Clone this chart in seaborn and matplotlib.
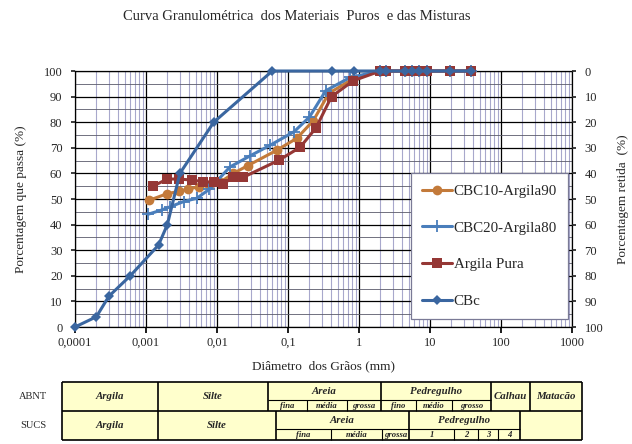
import matplotlib
matplotlib.use("Agg")
import matplotlib.pyplot as plt
import seaborn as sns
import pandas as pd
import numpy as np
from matplotlib.ticker import FixedLocator, NullFormatter, LogLocator

sns.set_theme(style="white")
plt.rcParams['font.family'] = ['Liberation Serif', 'DejaVu Serif']

# ---------------- data ----------------
high_sizes = [2.0, 2.4, 4.4, 5.6, 7.1, 9.1, 19, 38]
high_pass = [100, 100, 100, 100, 100, 100, 100, 100]

cbc10_x = [0.00111, 0.00195, 0.0029, 0.0039, 0.0055, 0.0078, 0.011, 0.017, 0.027,
           0.069, 0.133, 0.227, 0.377, 0.83] + high_sizes
cbc10_y = [49.5, 52, 53, 53.8, 54.8, 55.5, 56.5, 60, 63, 69, 73.7, 80.6, 91.3, 97] + high_pass

cbc20_x = [0.00106, 0.00166, 0.0022, 0.0034, 0.0052, 0.0078, 0.0152, 0.029, 0.056,
           0.122, 0.2, 0.34, 0.75] + high_sizes
cbc20_y = [44, 45.7, 47, 49, 50.3, 53.8, 62.5, 66.8, 71, 76.3, 82, 92.3, 97.5] + high_pass

argila_x = [0.00125, 0.002, 0.0029, 0.0044, 0.0063, 0.0092, 0.0123, 0.017, 0.0235,
            0.075, 0.148, 0.248, 0.41, 0.83] + high_sizes
argila_y = [55, 57.8, 57.8, 57.4, 56.8, 56.5, 56, 58.5, 58.5, 65.2, 70.2, 77.8, 90, 96.2] + high_pass

cbc_x = [0.0001, 0.0002, 0.0003, 0.0006, 0.0015, 0.002, 0.003, 0.009, 0.06, 0.42, 0.85] + high_sizes
cbc_y = [0, 4, 12, 20, 32, 40, 60, 80, 100, 100, 100] + high_pass

series_names = ["CBC10-Argila90", "CBC20-Argila80", "Argila Pura", "CBc"]
x_ticks = [0.0001, 0.001, 0.01, 0.1, 1, 10, 100, 1000]
x_tick_labels = ["0,0001", "0,001", "0,01", "0,1", "1", "10", "100", "1000"]
y_ticks = [0, 10, 20, 30, 40, 50, 60, 70, 80, 90, 100]

# ---------------- figure ----------------
W, H = 632, 444
fig = plt.figure(figsize=(W / 100, H / 100), dpi=100)
fig.patch.set_facecolor("white")

L, R, T, B = 75, 572, 71, 327
ax = fig.add_axes([L / W, 1 - B / H, (R - L) / W, (B - T) / H])
ax.set_facecolor("white")

styles = [
    dict(color="#C37A3A", marker="o", markersize=7, markeredgewidth=0),
    dict(color="#4A7EBB", marker="+", markersize=8, markeredgewidth=1.3),
    dict(color="#953735", marker="s", markersize=7.5, markeredgewidth=0),
    dict(color="#3A66A0", marker="D", markersize=5.5, markeredgewidth=0),
]
data = [(cbc10_x, cbc10_y), (cbc20_x, cbc20_y), (argila_x, argila_y), (cbc_x, cbc_y)]

for name, (xs, ys), st in zip(series_names, data, styles):
    df = pd.DataFrame({"x": xs, "y": ys})
    sns.lineplot(data=df, x="x", y="y", ax=ax, sort=False, linewidth=2.2,
                 color=st["color"], marker=st["marker"], markersize=st["markersize"],
                 markeredgewidth=st["markeredgewidth"], markeredgecolor=st["color"],
                 markerfacecolor=st["color"], label=name, clip_on=False, zorder=5)

ax.set_xscale("log")
ax.set_xlim(0.0001, 1000)
ax.set_ylim(0, 100)

ax.xaxis.set_major_locator(FixedLocator(x_ticks))
ax.set_xticks(x_ticks)
ax.set_xticklabels(x_tick_labels)
ax.xaxis.set_minor_locator(LogLocator(base=10, subs=np.arange(2, 10), numticks=100))
ax.xaxis.set_minor_formatter(NullFormatter())
ax.set_yticks(y_ticks)
ax.set_yticks(np.arange(5, 100, 10), minor=True)

ax.grid(True, which="major", axis="both", color="black", linewidth=0.9, zorder=1)
ax.grid(True, which="minor", axis="x", color="#a8a8cc", linewidth=0.8, zorder=1)
ax.grid(True, which="minor", axis="y", color="#5a5a6a", linewidth=0.6, zorder=1)
ax.set_axisbelow(True)

ax.tick_params(axis="x", which="major", direction="out", length=4, color="black",
               labelsize=9, pad=3, bottom=True)
ax.tick_params(axis="x", which="minor", length=0)
ax.tick_params(axis="y", which="major", direction="out", length=3, labelsize=9, pad=6, left=True)
ax.tick_params(axis="y", which="minor", length=0)
for sp in ax.spines.values():
    sp.set_color("black")
    sp.set_linewidth(0.9)

ax.set_xlabel("Diâmetro  dos Grãos (mm)", fontsize=9.5, labelpad=8)
ax.set_ylabel("Porcentagem que passa (%)", fontsize=9.5, labelpad=12)

ax2 = ax.twinx()
ax2.set_ylim(100, 0)
ax2.set_yticks(y_ticks)
ax2.tick_params(axis="y", direction="out", length=3, labelsize=9, pad=6, right=True)
ax2.set_ylabel("Porcentagem retida  (%)", fontsize=9.5, labelpad=10)
for sp in ax2.spines.values():
    sp.set_visible(False)

leg = ax.legend(loc="upper left", bbox_to_anchor=((411 - L) / (R - L), (B - 173) / (B - T)),
                bbox_transform=ax.transAxes, frameon=True, fancybox=False, framealpha=1,
                fontsize=10.8, handlelength=2.0, handletextpad=0.1, labelspacing=1.55,
                borderpad=0.75, borderaxespad=0)
leg.get_frame().set_edgecolor("#7a7a96")
leg.get_frame().set_linewidth(0.9)
leg.get_frame().set_facecolor("white")
leg.set_zorder(10)

fig.text(297 / W, 1 - 16 / H, "Curva Granulométrica  dos Materiais  Puros  e das Misturas",
         ha="center", va="center", fontsize=10.5)

# ---------------- classification table ----------------
tab = fig.add_axes([0, 0, 1, 1], zorder=-1)
tab.set_xlim(0, W)
tab.set_ylim(H, 0)
tab.axis("off")

fill = "#FFFFCC"
y0, y1, y2 = 382, 411, 440
ys_abnt = 400
ys_sucs = 429
tab.add_patch(plt.Rectangle((62, y0), 520, y2 - y0, facecolor=fill, edgecolor="none"))

def hline(x_a, x_b, y, lw=1.0):
    tab.plot([x_a, x_b], [y, y], color="black", lw=lw, solid_capstyle="butt")

def vline(x, y_a, y_b, lw=1.0):
    tab.plot([x, x], [y_a, y_b], color="black", lw=lw, solid_capstyle="butt")

hline(62, 582, y0, 1.2)
hline(62, 582, y1, 1.2)
hline(62, 582, y2, 1.2)
vline(62, y0, y2, 1.2)
vline(582, y0, y2, 1.2)

for x in [158, 268, 381, 491, 530]:
    vline(x, y0, y1, 1.2)
hline(268, 491, ys_abnt, 0.8)
for x in [307, 347, 416, 452]:
    vline(x, ys_abnt, y1, 0.8)

for x in [158, 276, 409, 520]:
    vline(x, y1, y2, 1.2)
hline(276, 520, ys_sucs, 0.8)
for x in [331, 382, 454, 478, 498]:
    vline(x, ys_sucs, y2, 0.8)

big = dict(fontsize=7.8, fontweight="bold", fontstyle="italic", ha="center", va="center")
small = dict(fontsize=6.2, fontweight="bold", fontstyle="italic", ha="center", va="center")

tab.text(110, (y0 + y1) / 2, "Argila", **big)
tab.text(213, (y0 + y1) / 2, "Silte", **big)
tab.text(324, (y0 + ys_abnt) / 2, "Areia", **big)
tab.text(436, (y0 + ys_abnt) / 2, "Pedregulho", **big)
tab.text(510, (y0 + y1) / 2, "Calhau", **big)
tab.text(556, (y0 + y1) / 2, "Matacão", **big)
for xa, xb, t in [(268, 307, "fina"), (307, 347, "média"), (347, 381, "grossa"),
                  (381, 416, "fino"), (416, 452, "médio"), (452, 491, "grosso")]:
    tab.text((xa + xb) / 2, (ys_abnt + y1) / 2, t, **small)

tab.text(110, (y1 + y2) / 2, "Argila", **big)
tab.text(217, (y1 + y2) / 2, "Silte", **big)
tab.text(342, (y1 + ys_sucs) / 2, "Areia", **big)
tab.text(464, (y1 + ys_sucs) / 2, "Pedregulho", **big)
for xa, xb, t in [(276, 331, "fina"), (331, 382, "média"), (382, 409, "grossa"),
                  (409, 454, "1"), (454, 478, "2"), (478, 498, "3"), (498, 520, "4")]:
    tab.text((xa + xb) / 2, (ys_sucs + y2) / 2, t, **small)

tab.text(33, (y0 + y1) / 2, "ABNT", fontsize=7.5, ha="center", va="center")
tab.text(33, (y1 + y2) / 2, "SUCS", fontsize=7.5, ha="center", va="center")

fig.savefig("out.png", dpi=100, facecolor="white")
